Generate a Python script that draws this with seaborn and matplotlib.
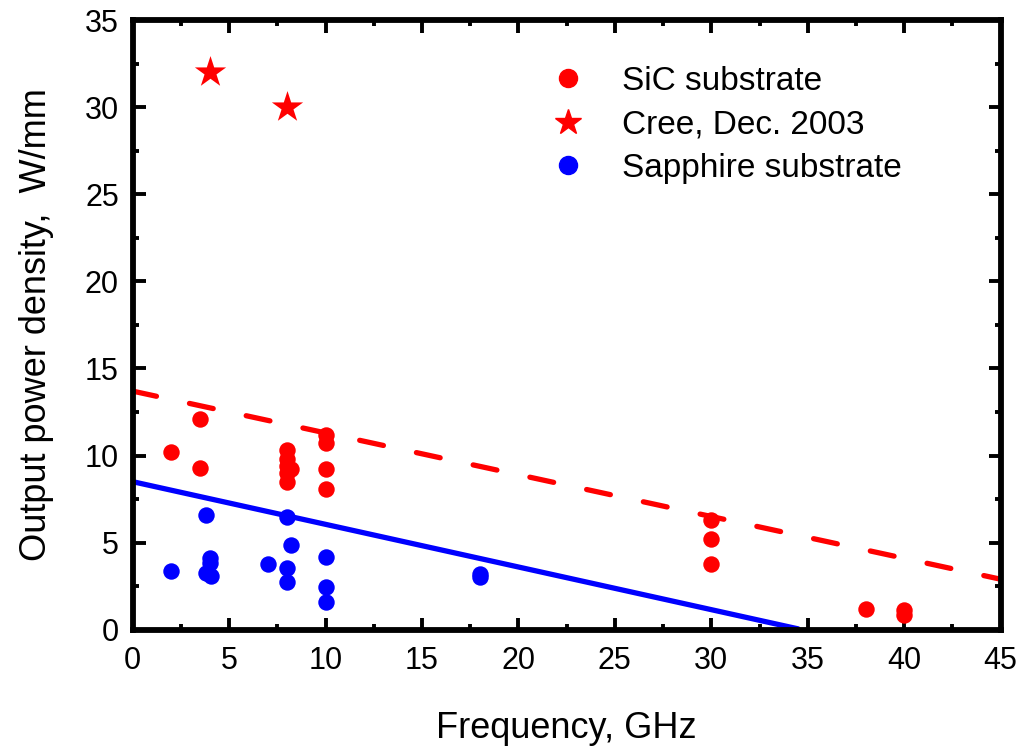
import pandas as pd
import seaborn as sns
import matplotlib.pyplot as plt
from matplotlib.lines import Line2D
from matplotlib.ticker import MultipleLocator

# data
sic_freq = [2, 3.5, 3.5, 8, 8, 8, 8.2, 8, 8, 10, 10, 10, 10, 30, 30, 30, 38, 40, 40]
sic_power = [10.2, 12.1, 9.3, 10.3, 9.8, 9.4, 9.2, 9.0, 8.5, 11.2, 10.7, 9.2, 8.1, 6.3, 5.2, 3.8, 1.2, 1.15, 0.85]

cree_freq = [4, 8]
cree_power = [32, 30]

sapphire_freq = [2, 3.8, 4, 4, 3.8, 4.05, 7, 8, 8.2, 8, 8, 10, 10, 10, 18, 18]
sapphire_power = [3.4, 6.6, 4.1, 3.85, 3.25, 3.1, 3.75, 6.45, 4.85, 3.55, 2.75, 4.15, 2.45, 1.6, 3.2, 3.0]

# trend lines
sic_trend_freq = [0, 45]
sic_trend_power = [13.7, 2.9]
sapphire_trend_freq = [0, 34.5]
sapphire_trend_power = [8.5, 0.05]

labels = ['SiC substrate', 'Cree, Dec. 2003', 'Sapphire substrate']

sns.set_style('ticks')
plt.rcParams['font.family'] = ['Liberation Sans', 'DejaVu Sans']
plt.rcParams.update({'text.color': 'black', 'axes.labelcolor': 'black',
                     'xtick.color': 'black', 'ytick.color': 'black',
                     'axes.edgecolor': 'black'})

df_sic = pd.DataFrame({'freq': sic_freq, 'power': sic_power})
df_cree = pd.DataFrame({'freq': cree_freq, 'power': cree_power})
df_sap = pd.DataFrame({'freq': sapphire_freq, 'power': sapphire_power})
df_sic_line = pd.DataFrame({'freq': sic_trend_freq, 'power': sic_trend_power})
df_sap_line = pd.DataFrame({'freq': sapphire_trend_freq, 'power': sapphire_trend_power})

fig, ax = plt.subplots(figsize=(10.21, 7.47), dpi=100)
fig.subplots_adjust(left=0.13, right=0.98, top=0.973, bottom=0.157)

sns.lineplot(data=df_sic_line, x='freq', y='power', ax=ax, color='red', linewidth=3.8,
             linestyle=(0, (4.6, 6.4)), dash_capstyle='round', zorder=2)
sns.lineplot(data=df_sap_line, x='freq', y='power', ax=ax, color='blue', linewidth=3.8,
             solid_capstyle='round', zorder=2)

sns.scatterplot(data=df_sic, x='freq', y='power', ax=ax, color='red', s=140, linewidth=0, zorder=3)
sns.scatterplot(data=df_cree, x='freq', y='power', ax=ax, color='red', marker='*', s=560, linewidth=0, zorder=3)
sns.scatterplot(data=df_sap, x='freq', y='power', ax=ax, color='blue', s=140, linewidth=0, zorder=3)

ax.set_xlim(0, 45)
ax.set_ylim(0, 35)
ax.xaxis.set_major_locator(MultipleLocator(5))
ax.xaxis.set_minor_locator(MultipleLocator(2.5))
ax.yaxis.set_major_locator(MultipleLocator(5))
ax.yaxis.set_minor_locator(MultipleLocator(2.5))

ax.tick_params(which='both', direction='in', top=True, right=True, width=2.8, labelsize=22)
ax.tick_params(which='major', length=9)
ax.tick_params(which='minor', length=4.5)
ax.tick_params(axis='x', which='major', pad=12)
ax.tick_params(axis='y', which='major', pad=10)
for sp in ax.spines.values():
    sp.set_linewidth(4.2)

ax.set_xlabel('Frequency, GHz', fontsize=26, labelpad=25)
ax.set_ylabel('Output power density,  W/mm', fontsize=26, labelpad=22)

handles = [
    Line2D([], [], linestyle='none', marker='o', color='red', markersize=13),
    Line2D([], [], linestyle='none', marker='*', color='red', markersize=19),
    Line2D([], [], linestyle='none', marker='o', color='blue', markersize=13),
]
ax.legend(handles, labels, loc='upper left', bbox_to_anchor=(0.448, 0.947), frameon=False,
          fontsize=24, handletextpad=0.6, labelspacing=0.38, borderaxespad=0)

fig.savefig('out.png', dpi=100)
